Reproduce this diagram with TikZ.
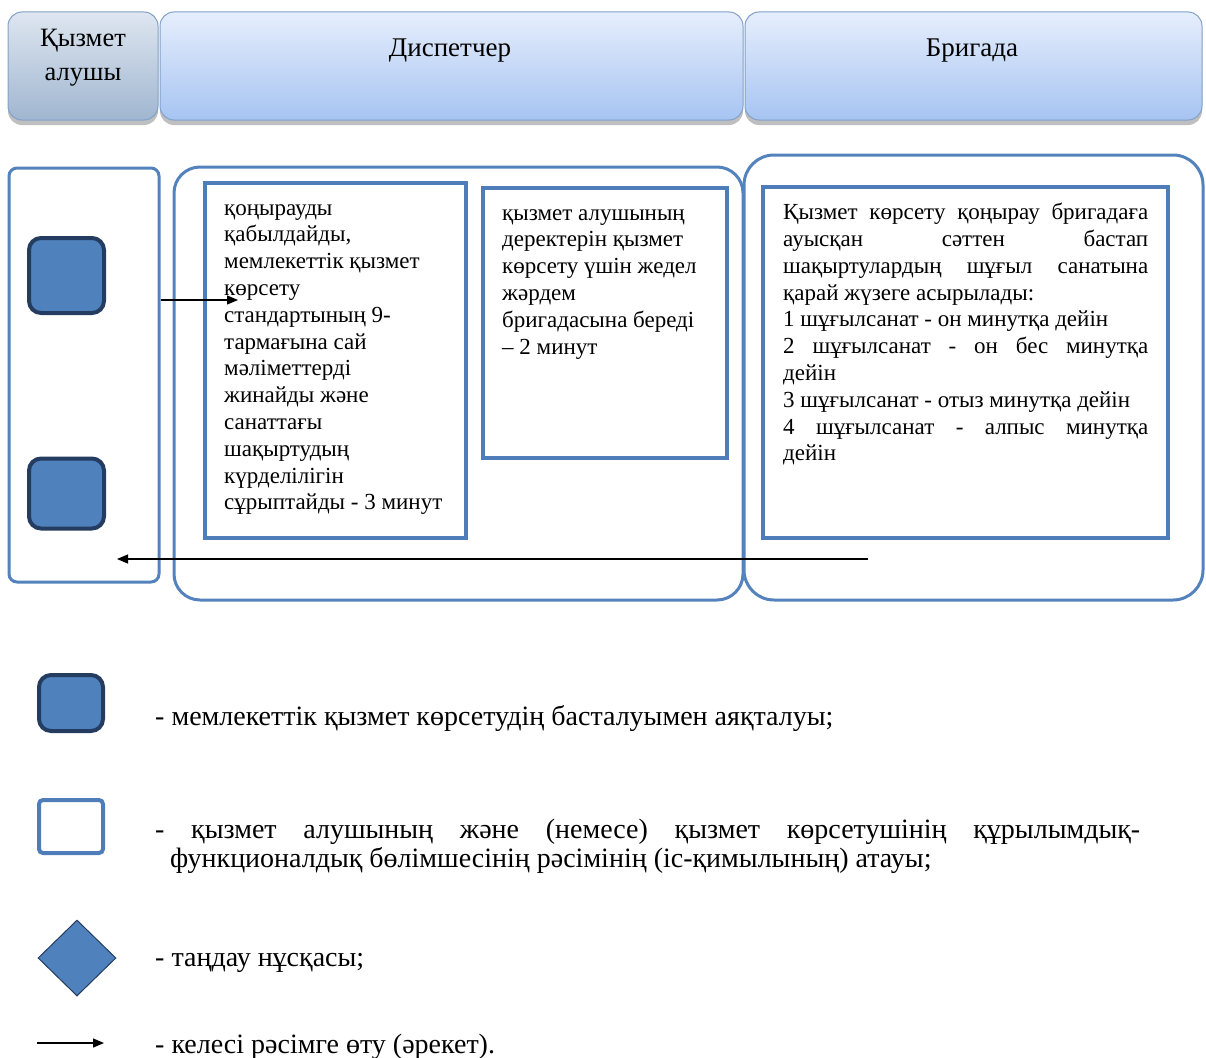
\documentclass[tikz,border=0pt]{standalone}
\usepackage{fontspec}
\setmainfont{Liberation Serif}
\usetikzlibrary{arrows.meta,shapes.geometric,shadows}
\definecolor{lanec}{RGB}{84,130,188}
\definecolor{boxc}{RGB}{79,125,185}
\definecolor{sqfill}{RGB}{79,129,189}
\definecolor{sqdraw}{RGB}{36,60,96}
\definecolor{hdrA1}{RGB}{222,230,240}
\definecolor{hdrA2}{RGB}{160,182,208}
\definecolor{hdrB1}{RGB}{230,238,252}
\definecolor{hdrB2}{RGB}{166,196,242}
\definecolor{hdrline}{RGB}{130,160,200}
\newcommand{\jline}[1]{\makebox[365pt][l]{#1}}
\tikzset{
  hdr/.style={draw=hdrline, line width=1pt, rounded corners=14pt, inner sep=0pt,
     drop shadow={shadow xshift=0pt, shadow yshift=-5pt, opacity=0.25, fill=black}},
  hdrgray/.style={hdr, top color=hdrA1, bottom color=hdrA2},
  hdrblue/.style={hdr, top color=hdrB1, bottom color=hdrB2},
  lane/.style={draw=lanec, line width=3pt, inner sep=0pt},
  stepbox/.style={draw=boxc, line width=4pt, inner sep=0pt, fill=white},
  term/.style={draw=sqdraw, fill=sqfill, line width=4pt, rounded corners=12pt, inner sep=0pt},
  txt/.style={inner sep=0pt, align=left, font=\fontsize{23}{26.8}\selectfont},
  htxt/.style={inner sep=0pt, align=center, font=\fontsize{27}{34}\selectfont},
  lgd/.style={inner sep=0pt, anchor=base west, font=\fontsize{28}{30}\selectfont},
  arr/.style={-{Triangle[length=11pt,width=9pt]}, line width=1.2pt, black},
}
\begin{document}
\begin{tikzpicture}[x=1pt,y=-1pt]
\useasboundingbox (0,0) rectangle (1206,1057);
% headers
\node[hdrgray, minimum width=150, minimum height=108] (h1) at (83,66) {};
\node[hdrblue, minimum width=583, minimum height=108] (h2) at (451.5,66) {};
\node[hdrblue, minimum width=457, minimum height=108] (h3) at (973.5,66) {};
\node[htxt, font=\fontsize{26.5}{34}\selectfont] (h1t) at (83,58) {Қызмет\\алушы};
\node[htxt] (h2t) at (450,51) {Диспетчер};
\node[htxt] (h3t) at (972,51) {Бригада};
% lanes
\node[lane, rounded corners=8pt, minimum width=150, minimum height=414] (lane1) at (84,375) {};
\node[lane, rounded corners=26pt, minimum width=569, minimum height=433] (lane2) at (458.5,383.5) {};
\node[lane, rounded corners=30pt, minimum width=459, minimum height=445] (lane3) at (973.5,377.5) {};
% terminals
\node[term, minimum width=75, minimum height=75] (s1) at (66.5,275.5) {};
\node[term, minimum width=75, minimum height=70] (s2) at (66.5,493.5) {};
% step boxes
\node[stepbox, minimum width=261, minimum height=355] (b1) at (335.5,360.5) {};
\node[stepbox, minimum width=244, minimum height=270] (b2) at (605,323) {};
\node[stepbox, minimum width=405, minimum height=351] (b3) at (965.5,362.5) {};
\node[txt, anchor=north west] (b1t) at (224,204) {қоңырауды\\қабылдайды,\\мемлекеттік қызмет\\көрсету\\стандартының 9-\\тармағына сай\\мәліметтерді\\жинайды және\\санаттағы\\шақыртудың\\күрделілігін\\сұрыптайды - 3 минут};
\node[txt, anchor=north west] (b2t) at (502,209) {қызмет алушының\\деректерін қызмет\\көрсету үшін жедел\\жәрдем\\бригадасына береді\\– 2 минут};
\node[txt, anchor=north west] (b3t) at (783,203) {%
\jline{Қызмет\hfill көрсету\hfill қоңырау\hfill бригадаға}\\
\jline{ауысқан\hfill сәттен\hfill бастап}\\
\jline{шақыртулардың\hfill шұғыл\hfill санатына}\\
қарай жүзеге асырылады:\\
1 шұғылсанат - он минутқа дейін\\
\jline{2\hfill шұғылсанат\hfill -\hfill он\hfill бес\hfill минутқа}\\
дейін\\
3 шұғылсанат - отыз минутқа дейін\\
\jline{4\hfill шұғылсанат\hfill -\hfill алпыс\hfill минутқа}\\
дейін};
% connectors
\coordinate (a1e) at (238,300);
\draw[arr] (lane1.east |- a1e) -- (a1e);
\coordinate (a2s) at (868,559);
\coordinate (a2e) at (117,559);
\draw[arr] (a2s) -- (a2e);
% legend
\node[term, minimum width=64, minimum height=56] (l1) at (71,703) {};
\node[lgd] (l1t) at (155,725) {- мемлекеттік қызмет көрсетудің басталуымен аяқталуы;};
\node[draw=boxc, line width=4pt, fill=white, rounded corners=4pt, inner sep=0pt, minimum width=64, minimum height=53] (l2) at (71,826.5) {};
\node[lgd] (l2t) at (155,838) {\makebox[985pt][l]{-\hfill қызмет\hfill алушының\hfill және\hfill (немесе)\hfill қызмет\hfill көрсетушінің\hfill құрылымдық-}};
\node[lgd] (l2u) at (170,867) {функционалдық бөлімшесінің рәсімінің (іс-қимылының) атауы;};
\node[diamond, draw=sqdraw, fill=sqfill, line width=1pt, inner sep=0pt, minimum width=78, minimum height=76] (l3) at (77,958) {};
\node[lgd] (l3t) at (155,966) {- таңдау нұсқасы;};
\coordinate (la1) at (37,1043);
\coordinate (la2) at (104,1043);
\draw[arr] (la1) -- (la2);
\node[lgd] (l4t) at (155,1053) {- келесі рәсімге өту (әрекет).};
\end{tikzpicture}
\end{document}
